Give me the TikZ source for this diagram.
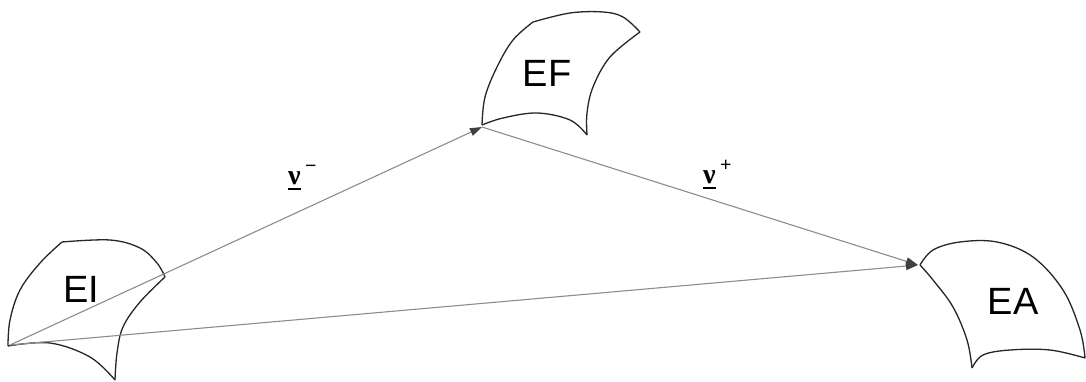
\documentclass[tikz,border=0pt]{standalone}
\usepackage{fontspec}
\setmainfont{Liberation Sans}
\newfontfamily\grk{Liberation Serif}
\usetikzlibrary{arrows.meta}
\newcommand{\ulnu}{\tikz[baseline=0pt]{\node[inner sep=0pt,anchor=base] (q) {ν};\draw[line width=1.6pt] ([yshift=-4pt]q.base west) -- ([yshift=-4pt]q.base east);}}
\begin{document}
\begin{tikzpicture}[x=1pt,y=-1pt,
  surf/.style={draw=black!85,line width=1.3pt,line join=round},
  conn/.style={draw=black!45,line width=1.1pt},
  arr/.style={conn,-{Triangle[length=12pt,width=8pt,color=black!75]}},
  lbl/.style={font=\fontsize{38}{40}\selectfont,inner sep=0pt},
  nu/.style={font=\grk\bfseries\fontsize{28}{30}\selectfont,inner sep=0pt}]
\path[use as bounding box] (0,0) rectangle (1086,382);
% EI surface
\draw[surf] plot[smooth,tension=0.6] coordinates {(8,346) (10,320) (20,290) (40,263) (62,242)};
\draw[surf] plot[smooth,tension=0.6] coordinates {(62,242) (110,240) (140,248) (157,263) (165,277)};
\draw[surf] plot[smooth,tension=0.6] coordinates {(165,277) (140,302) (123,327) (117,353) (115,380)};
\draw[surf] plot[smooth,tension=0.6] coordinates {(8,346) (50,343) (90,357) (115,380)};
% EF surface
\draw[surf] plot[smooth,tension=0.6] coordinates {(482,125) (485,97) (497,67) (513,40) (533,22)};
\draw[surf] plot[smooth,tension=0.6] coordinates {(533,22) (570,13) (603,12) (623,17) (640,32)};
\draw[surf] plot[smooth,tension=0.6] coordinates {(640,32) (610,57) (593,87) (587,113) (587,135)};
\draw[surf] plot[smooth,tension=0.6] coordinates {(587,135) (570,120) (537,113) (503,118) (482,125)};
% EA surface
\draw[surf] plot[smooth,tension=0.6] coordinates {(920,265) (933,250) (960,242) (997,242) (1033,257) (1063,290) (1080,330) (1085,358)};
\draw[surf] plot[smooth,tension=0.6] coordinates {(1085,358) (1050,350) (1010,350) (983,355) (972,368)};
\draw[surf] plot[smooth,tension=0.6] coordinates {(972,368) (967,340) (953,307) (933,280) (920,265)};
% texts
\node[lbl] (EI) at (81,289) {EI};
\node[lbl] (EF) at (547,73) {EF};
\node[lbl] (EA) at (1013,301) {EA};
% connector end points
\coordinate (pI) at (10,345);
\coordinate (pF) at (482,127);
\coordinate (pA) at (918,265);
\draw[arr] (pI) -- (pF);
\draw[arr] (pF) -- (pA);
\draw[arr] (pI) -- (pA);
% labels
\node[nu,anchor=base west] (nm) at (287,185) {\ulnu\raisebox{0.45em}{\fontsize{20}{20}\selectfont\,\textminus}};
\node[nu,anchor=base west] (np) at (702,184) {\ulnu\raisebox{0.45em}{\fontsize{20}{20}\selectfont\,+}};
\end{tikzpicture}
\end{document}
